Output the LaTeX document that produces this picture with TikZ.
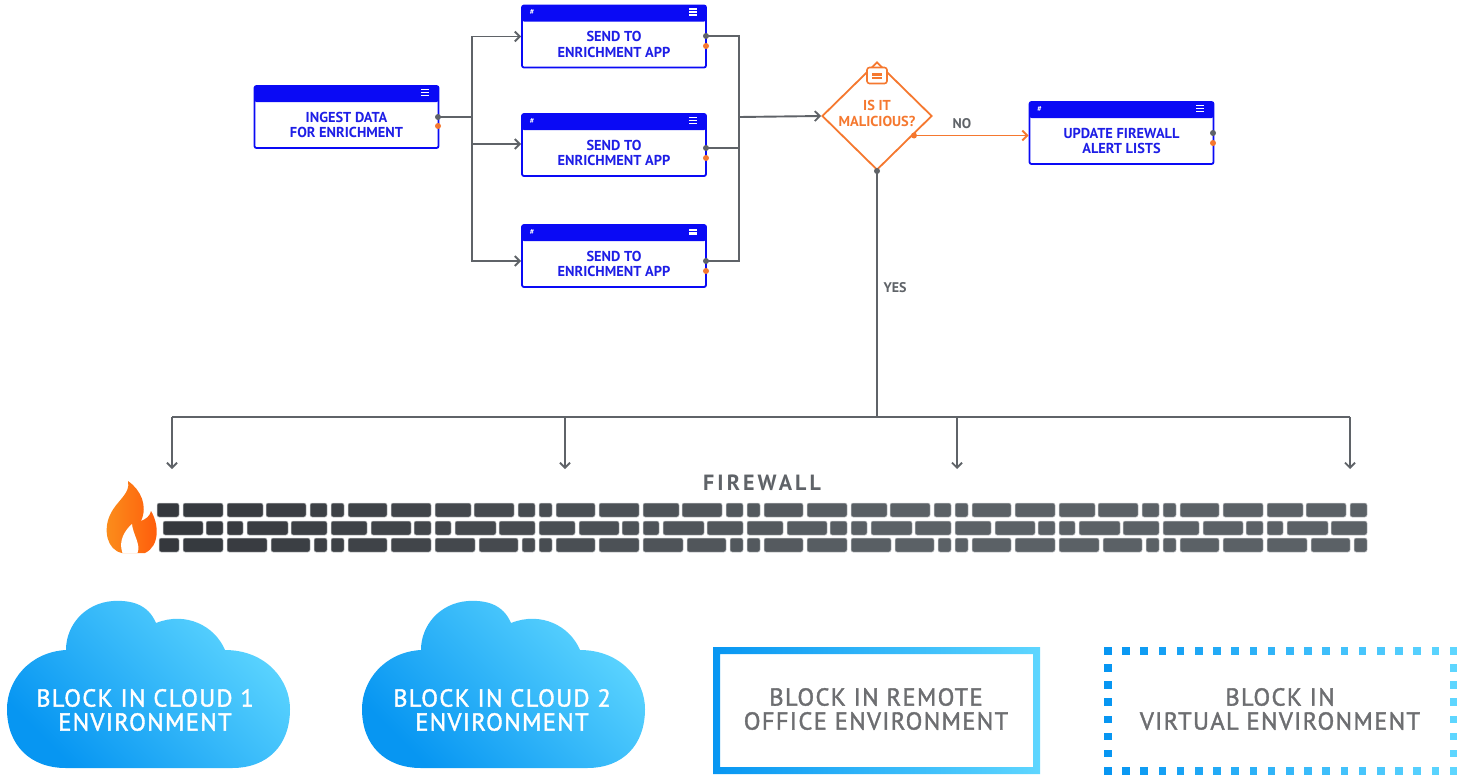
\documentclass[tikz,border=0pt]{standalone}
\usepackage{fontspec}
\setmainfont{PT Sans}
\newfontfamily\spacedfont[LetterSpace=5.5,FakeBold=1.6]{PT Sans}
\newfontfamily\widefont[LetterSpace=14]{PT Sans}
\usetikzlibrary{shapes.geometric,arrows.meta,calc}
\definecolor{boxblue}{HTML}{0A0AF5}
\definecolor{textblue}{HTML}{1E1EE6}
\definecolor{conngray}{HTML}{5F6368}
\definecolor{orangec}{HTML}{F5782F}
\definecolor{clouddark}{HTML}{0796F2}
\definecolor{cloudlight}{HTML}{5ED6FF}
\definecolor{brickA}{HTML}{34373C}
\definecolor{brickB}{HTML}{5B6166}
\definecolor{brickedge}{HTML}{C9CBCD}
\definecolor{labelgray}{HTML}{6D6E71}
\definecolor{flameA}{HTML}{FB901C}
\definecolor{flameB}{HTML}{FF5A0B}
\newcommand\hdricons[3]{%
  \ifnum#2=1 \node[hashtxt] at ($(#1.north west)+(11,7.5)$) {\#};\fi
  \ifnum#3=1
    \fill[white] ($(#1.north east)+(-18,3.5)$) rectangle +(8,1.6);
    \fill[white] ($(#1.north east)+(-18,6.5)$) rectangle +(8,1.6);
    \fill[white] ($(#1.north east)+(-18,9.5)$) rectangle +(8,1.6);
  \else
    \fill[white] ($(#1.north east)+(-18,4.5)$) rectangle +(8,2.6);
    \fill[white] ($(#1.north east)+(-18,8)$) rectangle +(8,2.6);
  \fi
}
\tikzset{
  procbox/.style={draw=boxblue, line width=1.8pt, rounded corners=2pt,
    minimum width=184pt, minimum height=62pt, inner sep=0pt, fill=white,
    path picture={\fill[boxblue] ([yshift=2pt]path picture bounding box.north west)
      rectangle ([yshift=-16pt]path picture bounding box.north east);}},
  boxtext/.style={text=textblue, font=\bfseries\fontsize{14.4}{15.5}\selectfont, align=center, inner sep=0pt},
  hashtxt/.style={text=white, font=\bfseries\fontsize{7.5}{7.5}\selectfont, inner sep=0pt},
  conn/.style={draw=conngray, line width=1.9pt},
  arr/.style={-{Straight Barb[length=5pt,width=10pt]}},
  gport/.style={circle, fill=conngray, minimum size=6pt, inner sep=0pt},
  oport/.style={circle, fill=orangec, minimum size=6pt, inner sep=0pt},
  lbl/.style={text=conngray, font=\bfseries\fontsize{14}{15}\selectfont, inner sep=0pt},
  envtext/.style={font=\spacedfont\fontsize{24.5}{24}\selectfont, align=center, inner sep=0pt},
}
\begin{document}
\begin{tikzpicture}[x=1pt,y=-1pt]
\useasboundingbox (0,0) rectangle (1463,774);

% ---------- process boxes ----------
\node[procbox] (ingest) at (346.5,117) {};
\node[boxtext] (ingestlbl) at ([yshift=-8pt]ingest.center) {INGEST DATA\\FOR ENRICHMENT};
\hdricons{ingest}{0}{1}

\node[procbox] (s1) at (614,36.5) {};
\node[boxtext] (s1lbl) at ([yshift=-8pt]s1.center) {SEND TO\\ENRICHMENT APP};
\hdricons{s1}{1}{1}

\node[procbox] (s2) at (614,145) {};
\node[boxtext] (s2lbl) at ([yshift=-8pt]s2.center) {SEND TO\\ENRICHMENT APP};
\hdricons{s2}{1}{1}

\node[procbox] (s3) at (614,256) {};
\node[boxtext] (s3lbl) at ([yshift=-8pt]s3.center) {SEND TO\\ENRICHMENT APP};
\hdricons{s3}{1}{2}

\node[procbox] (upd) at (1121.5,133) {};
\node[boxtext] (updlbl) at ([yshift=-8pt]upd.center) {UPDATE FIREWALL\\ALERT LISTS};
\hdricons{upd}{1}{1}

% ---------- decision ----------
\node[diamond, draw=orangec, line width=1.8pt, minimum width=110pt, minimum height=108pt,
      inner sep=0pt, fill=white] (mal) at (877,116) {};
\node[text=orangec, font=\bfseries\fontsize{14.4}{15.5}\selectfont, align=center, inner sep=0pt]
      (mallbl) at (877,113.5) {IS IT\\MALICIOUS?};
\node[draw=orangec, line width=1.6pt, rounded corners=2.5pt, minimum width=20pt,
      minimum height=16pt, fill=white, inner sep=0pt] (malicon) at (877,75.5) {};
\fill[orangec] (872,72.5) rectangle (882,75.5);
\fill[orangec] (872,76.5) rectangle (882,78.5);

% ---------- ports ----------
\node[gport] (ingestg) at (438,117) {};
\node[oport] (ingesto) at (438,126) {};
\node[gport] (s1g) at (706,36) {};
\node[oport] (s1o) at (706,46) {};
\node[gport] (s2g) at (706,148) {};
\node[oport] (s2o) at (706,158) {};
\node[gport] (s3g) at (706,261) {};
\node[oport] (s3o) at (706,271) {};
\node[gport] (updg) at (1213,133) {};
\node[oport] (updo) at (1213,143) {};
\node[oport] (malno) at (914,135.5) {};
\node[gport] (malyes) at (877,171) {};

% ---------- connectors ----------
\coordinate (split) at (472,117);
\coordinate (merge) at (739,117);
\draw[conn] (ingestg.center) -- (split);
\draw[conn,arr] (split) |- (s1.west);
\draw[conn,arr] (split) |- ([yshift=1pt]s2.west);
\draw[conn,arr] (split) |- ([yshift=-5pt]s3.west);
\draw[conn] (s1g.center) -| (merge);
\draw[conn] (s2g.center) -| (merge);
\draw[conn] (s3g.center) -| (merge);
\draw[conn,arr] (merge) -- (mal.west);
\draw[draw=orangec, line width=1.9pt, arr] (malno.center) -- (malno -| upd.west);
\node[lbl] (nolbl) at (962,124) {NO};

\coordinate (bus) at (877,417);
\coordinate (b1) at (172,417);
\coordinate (b2) at (565,417);
\coordinate (b3) at (957,417);
\coordinate (b4) at (1350,417);
\coordinate (t1) at (172,469);
\coordinate (t2) at (565,469);
\coordinate (t3) at (957,469);
\coordinate (t4) at (1350,469);
\draw[conn] (malyes.center) -- (bus);
\draw[conn] (b1) -- (b4);
\draw[conn,arr] (b1) -- (t1);
\draw[conn,arr] (b2) -- (t2);
\draw[conn,arr] (b3) -- (t3);
\draw[conn,arr] (b4) -- (t4);
\node[lbl] (yeslbl) at (895,288) {YES};

% ---------- firewall ----------
\node[font=\widefont\bfseries\fontsize{22}{22}\selectfont, text=conngray, inner sep=0pt] (fw) at (762,483) {FIREWALL};
\foreach \ry/\rs/\offs in {503/157/{0/13,17/56,60/100,104/140,143/183,187/204},
                           521/162/{0/36,40/80,83/100,104/120,124/165,168/204},
                           538/159/{0/13,17/56,60/100,104/144,148/187,191/204}} {
  \foreach \k in {0,...,5} {
    \foreach \a/\b in \offs {
      \pgfmathsetmacro\xa{max(123+208*\k+\a,\rs)}
      \pgfmathsetmacro\xb{min(123+208*\k+\b,1367)}
      \pgfmathsetmacro\okw{\xb-\xa}
      \ifdim\okw pt>1pt
        \pgfmathsetmacro\pc{min(100,max(0,((\xa+\xb)/2-157)/7.43))}
        \filldraw[fill=brickB!\pc!brickA, draw=brickedge, line width=0.5pt, rounded corners=2pt]
          (\xa,\ry) rectangle (\xb,\ry+14);
      \fi
    }
  }
}
% flame
\shade[left color=flameA, right color=flameB]
  (122,553) .. controls (107,550) and (103,530) .. (110,515)
  .. controls (116,501) and (131,494) .. (128,481)
  .. controls (141,490) and (148,506) .. (141,521)
  .. controls (146,519) and (150,516) .. (151,511)
  .. controls (159,524) and (160,546) .. (145,553) -- cycle;
\fill[white] (122.5,553) .. controls (118,541) and (125,530) .. (132,524)
  .. controls (133,535) and (141,544) .. (137.5,553) -- cycle;

% ---------- clouds ----------
\foreach \dx in {0,355} {
  \begin{scope}[shift={(\dx,0)}]
    \shade[top color=cloudlight, bottom color=clouddark, shading angle=-45]
      (66,650) .. controls (30,652) and (7,680) .. (7,709)
      .. controls (7,745) and (30,768) .. (66,768) -- (232,768)
      .. controls (268,768) and (290,745) .. (290,709)
      .. controls (290,680) and (266,650) .. (225,650)
      .. controls (215,626) and (186,611) .. (156,623)
      .. controls (148,604) and (131,600) .. (113,601)
      .. controls (85,603) and (66,625) .. (66,650) -- cycle;
  \end{scope}
}
\node[envtext, text=white] (cloud1) at (145,710) {BLOCK IN CLOUD 1\\ENVIRONMENT};
\node[envtext, text=white] (cloud2) at (502,710) {BLOCK IN CLOUD 2\\ENVIRONMENT};

% ---------- remote office box ----------
\shade[left color=clouddark, right color=cloudlight, even odd rule]
  (713,647) rectangle (1040,774) (720,654) rectangle (1033,767);
\node[envtext, text=labelgray] (remote) at (876,709) {BLOCK IN REMOTE\\OFFICE ENVIRONMENT};

% ---------- virtual box (dotted) ----------
\foreach \k in {0,...,19} {
  \pgfmathsetmacro\xx{1104+18.2*\k}
  \pgfmathsetmacro\pc{(\xx-1104)/3.46}
  \fill[cloudlight!\pc!clouddark] (\xx,647) rectangle +(7.5,8);
  \fill[cloudlight!\pc!clouddark] (\xx,767) rectangle +(7.5,7.5);
}
\foreach \k in {1,...,6} {
  \pgfmathsetmacro\yy{647+17.14*\k}
  \fill[clouddark] (1104,\yy) rectangle +(7.5,7.5);
  \fill[cloudlight] (1449.8,\yy) rectangle +(7.5,7.5);
}
\node[envtext, text=labelgray] (virtual) at (1280,709) {BLOCK IN\\VIRTUAL ENVIRONMENT};
\end{tikzpicture}
\end{document}
